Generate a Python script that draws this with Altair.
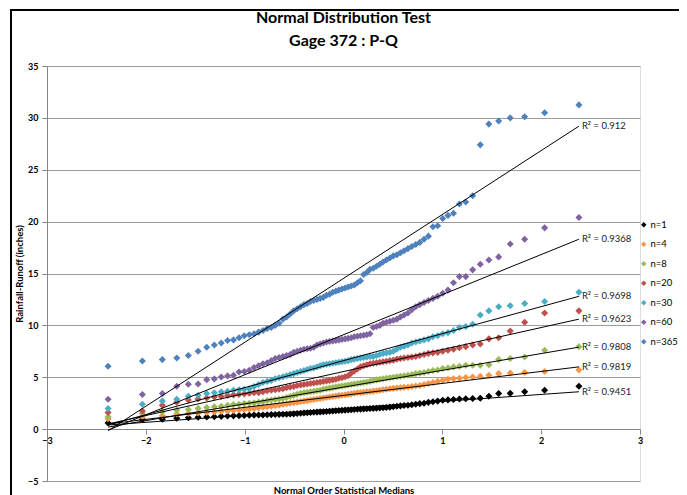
import altair as alt
import pandas as pd

# Normal order statistic medians (x positions, 80 points per series)
X = [-2.382, -2.035, -1.833, -1.687, -1.570, -1.471, -1.384, -1.307, -1.237, -1.173,
     -1.113, -1.057, -1.004, -0.953, -0.905, -0.859, -0.815, -0.772, -0.731, -0.691,
     -0.652, -0.613, -0.576, -0.540, -0.504, -0.469, -0.434, -0.400, -0.367, -0.334,
     -0.301, -0.268, -0.236, -0.204, -0.172, -0.141, -0.109, -0.078, -0.047, -0.016,
     0.016, 0.047, 0.078, 0.109, 0.141, 0.172, 0.204, 0.236, 0.268, 0.301,
     0.334, 0.367, 0.400, 0.434, 0.469, 0.504, 0.540, 0.576, 0.613, 0.652,
     0.691, 0.731, 0.772, 0.815, 0.859, 0.905, 0.953, 1.004, 1.057, 1.113,
     1.173, 1.237, 1.307, 1.384, 1.471, 1.570, 1.687, 1.833, 2.035, 2.382]

Y_N1 = [0.60, 0.93, 0.95, 1.05, 1.10, 1.15, 1.18, 1.20, 1.23, 1.26,
        1.28, 1.30, 1.32, 1.34, 1.35, 1.36, 1.37, 1.38, 1.40, 1.41,
        1.42, 1.43, 1.44, 1.45, 1.47, 1.50, 1.53, 1.56, 1.58, 1.60,
        1.62, 1.64, 1.66, 1.68, 1.70, 1.72, 1.75, 1.77, 1.79, 1.81,
        1.83, 1.85, 1.87, 1.89, 1.91, 1.93, 1.95, 1.97, 1.99, 2.00,
        2.02, 2.04, 2.06, 2.09, 2.12, 2.15, 2.20, 2.24, 2.28, 2.30,
        2.35, 2.40, 2.46, 2.50, 2.58, 2.63, 2.70, 2.79, 2.82, 2.85,
        2.90, 2.93, 2.95, 2.97, 3.17, 3.43, 3.45, 3.60, 3.75, 4.13]

Y_N4 = [1.00, 1.20, 1.30, 1.45, 1.50, 1.55, 1.60, 1.65, 1.70, 1.75,
        1.80, 1.85, 1.90, 1.95, 2.00, 2.05, 2.10, 2.15, 2.20, 2.25,
        2.30, 2.40, 2.45, 2.50, 2.55, 2.60, 2.65, 2.70, 2.75, 2.80,
        2.85, 2.90, 2.95, 3.00, 3.05, 3.10, 3.15, 3.20, 3.23, 3.26,
        3.30, 3.35, 3.40, 3.45, 3.50, 3.52, 3.55, 3.60, 3.63, 3.66,
        3.70, 3.75, 3.80, 3.85, 3.90, 3.93, 3.96, 4.00, 4.03, 4.06,
        4.10, 4.15, 4.20, 4.30, 4.40, 4.50, 4.60, 4.70, 4.80, 4.85,
        4.90, 4.97, 5.03, 5.10, 5.20, 5.35, 5.40, 5.45, 5.55, 5.70]

Y_N8 = [1.20, 1.50, 1.67, 1.83, 1.90, 2.00, 2.08, 2.15, 2.20, 2.30,
        2.37, 2.40, 2.46, 2.50, 2.55, 2.60, 2.65, 2.75, 2.80, 2.85,
        2.90, 2.95, 3.05, 3.15, 3.25, 3.35, 3.45, 3.50, 3.55, 3.60,
        3.65, 3.70, 3.75, 3.85, 3.90, 3.95, 4.00, 4.05, 4.10, 4.15,
        4.20, 4.25, 4.30, 4.35, 4.40, 4.45, 4.50, 4.55, 4.60, 4.70,
        4.75, 4.80, 4.85, 4.90, 4.95, 5.00, 5.05, 5.10, 5.15, 5.20,
        5.25, 5.35, 5.40, 5.45, 5.55, 5.65, 5.70, 5.85, 5.90, 6.00,
        6.05, 6.15, 6.15, 6.15, 6.20, 6.70, 6.80, 6.95, 7.60, 7.95]

Y_N20 = [1.60, 1.75, 2.30, 2.60, 2.80, 2.90, 3.00, 3.10, 3.15, 3.25,
         3.30, 3.35, 3.40, 3.45, 3.50, 3.52, 3.60, 3.70, 3.75, 3.80,
         3.85, 3.90, 4.00, 4.05, 4.10, 4.20, 4.25, 4.30, 4.35, 4.40,
         4.45, 4.50, 4.55, 4.60, 4.65, 4.70, 4.75, 4.80, 4.90, 4.95,
         5.05, 5.15, 5.40, 5.60, 5.80, 6.00, 6.10, 6.20, 6.30, 6.35,
         6.40, 6.45, 6.50, 6.55, 6.60, 6.65, 6.75, 6.80, 6.85, 6.90,
         6.95, 7.00, 7.10, 7.20, 7.30, 7.35, 7.40, 7.50, 7.60, 7.70,
         7.85, 7.95, 8.10, 8.20, 8.70, 8.80, 9.45, 10.30, 11.20, 11.40]

Y_N30 = [1.99, 2.40, 2.70, 2.88, 3.17, 3.27, 3.43, 3.50, 3.60, 3.65,
         3.75, 3.80, 3.85, 3.90, 4.10, 4.30, 4.50, 4.60, 4.70, 4.85,
         4.95, 5.05, 5.15, 5.25, 5.35, 5.45, 5.55, 5.65, 5.75, 5.85,
         5.90, 6.00, 6.10, 6.20, 6.25, 6.30, 6.35, 6.40, 6.45, 6.50,
         6.55, 6.60, 6.70, 6.75, 6.80, 6.85, 6.90, 6.95, 7.00, 7.00,
         7.10, 7.20, 7.30, 7.35, 7.40, 7.50, 7.70, 7.90, 8.00, 8.10,
         8.30, 8.40, 8.50, 8.60, 8.70, 8.90, 9.00, 9.20, 9.30, 9.50,
         9.80, 9.90, 10.10, 11.00, 11.40, 11.80, 11.90, 12.10, 12.30, 13.20]

Y_N60 = [2.88, 3.33, 3.43, 4.13, 4.33, 4.35, 4.77, 4.84, 5.03, 5.13,
         5.19, 5.50, 5.55, 5.67, 5.93, 6.10, 6.30, 6.40, 6.60, 6.80,
         6.90, 7.00, 7.10, 7.20, 7.40, 7.50, 7.60, 7.70, 7.75, 7.80,
         7.90, 8.10, 8.20, 8.30, 8.40, 8.45, 8.50, 8.55, 8.60, 8.65,
         8.70, 8.75, 8.80, 8.90, 8.95, 9.00, 9.05, 9.10, 9.20, 9.80,
         9.90, 10.00, 10.20, 10.30, 10.40, 10.50, 10.60, 10.80, 11.00, 11.20,
         11.50, 11.80, 12.00, 12.20, 12.40, 12.60, 12.80, 13.10, 13.40, 14.10,
         14.70, 14.70, 15.35, 15.90, 16.30, 16.60, 17.85, 18.30, 19.40, 20.40]

Y_N365 = [6.06, 6.57, 6.70, 6.85, 7.10, 7.50, 7.90, 8.10, 8.30, 8.55,
          8.60, 8.80, 9.00, 9.10, 9.20, 9.35, 9.50, 9.70, 9.80, 10.00,
          10.20, 10.60, 10.80, 11.10, 11.40, 11.60, 11.80, 12.00, 12.10, 12.30,
          12.40, 12.50, 12.60, 12.70, 12.90, 13.00, 13.20, 13.30, 13.40, 13.50,
          13.60, 13.70, 13.80, 13.90, 14.10, 14.30, 14.90, 15.10, 15.40, 15.50,
          15.70, 15.90, 16.10, 16.30, 16.50, 16.70, 16.80, 17.00, 17.20, 17.40,
          17.60, 17.80, 18.00, 18.30, 18.60, 19.50, 19.60, 20.30, 20.60, 20.80,
          21.70, 21.90, 22.50, 27.40, 29.40, 29.70, 30.00, 30.10, 30.50, 31.25]

SERIES = ["n=1", "n=4", "n=8", "n=20", "n=30", "n=60", "n=365"]
COLORS = ["#000000", "#F79646", "#9BBB59", "#C0504D", "#4BACC6", "#8064A2", "#4F81BD"]
VALUES = [Y_N1, Y_N4, Y_N8, Y_N20, Y_N30, Y_N60, Y_N365]

# Linear trendlines (value at first and last x) and their R² labels
TREND_START = [0.4, 0.5, 0.2, 0.5, 0.4, -0.1, -0.15]
TREND_END = [3.6, 6.0, 7.9, 10.6, 12.8, 18.3, 29.2]
R2 = ["0.9451", "0.9819", "0.9808", "0.9623", "0.9698", "0.9368", "0.912"]

FONT = "Lato"

pt_rows, tr_rows, lb_rows = [], [], []
for k, (s, ys) in enumerate(zip(SERIES, VALUES)):
    for x, y in zip(X, ys):
        pt_rows.append({"series": s, "k": k, "x": x, "y": y})
    tr_rows.append({"series": s, "x": X[0], "y": TREND_START[k]})
    tr_rows.append({"series": s, "x": X[-1], "y": TREND_END[k]})
    lb_rows.append({"series": s, "x": X[-1], "y": TREND_END[k], "label": "R\u00b2 = " + R2[k]})

points = pd.DataFrame(pt_rows)
trends = pd.DataFrame(tr_rows)
labels = pd.DataFrame(lb_rows)

xscale = alt.Scale(domain=[-3, 3], nice=False, zero=False)
yscale = alt.Scale(domain=[-5, 35], nice=False, zero=False)

x_axis = alt.Axis(values=[-3, -2, -1, 0, 1, 2, 3], format="d", offset=-52, grid=False,
                  domainColor="#868686", tickColor="#868686", tickSize=5,
                  labelFont=FONT, labelFontSize=9, labelFontWeight="bold",
                  labelColor="#000000", labelPadding=2, labelFlush=False,
                  title="Normal Order Statistical Medians", titleFont=FONT,
                  titleFontSize=9.5, titleFontWeight="bold", titleColor="#000000",
                  titleY=61, titleBaseline="middle")
y_axis = alt.Axis(values=list(range(-5, 40, 5)), format="d", grid=True, gridColor="#9C9C9C",
                  domainColor="#868686", tickColor="#868686", tickSize=5,
                  labelFont=FONT, labelFontSize=9, labelFontWeight="bold",
                  labelColor="#000000", labelPadding=4,
                  title="Rainfall-Runoff (inches)", titleFont=FONT,
                  titleFontSize=9.5, titleFontWeight="bold", titleColor="#000000",
                  titlePadding=3)

pts = alt.Chart(points).mark_point(shape="diamond", filled=True, size=50, opacity=1).encode(
    x=alt.X("x:Q", scale=xscale, axis=x_axis),
    y=alt.Y("y:Q", scale=yscale, axis=y_axis),
    color=alt.Color("series:N", sort=SERIES,
                    scale=alt.Scale(domain=SERIES, range=COLORS),
                    legend=alt.Legend(title=None, orient="none", legendX=592, legendY=154,
                                      symbolType="diamond", symbolSize=30,
                                      labelFont=FONT, labelFontSize=9.5, labelColor="#000000",
                                      labelOffset=2, rowPadding=8.5)),
    order=alt.Order("k:Q"),
)

lines = alt.Chart(trends).mark_line(color="#000000", strokeWidth=1).encode(
    x=alt.X("x:Q", scale=xscale),
    y=alt.Y("y:Q", scale=yscale),
    detail="series:N",
)

texts = alt.Chart(labels).mark_text(align="left", baseline="middle", dx=3,
                                    font=FONT, fontSize=9.5, color="#222222").encode(
    x=alt.X("x:Q", scale=xscale),
    y=alt.Y("y:Q", scale=yscale),
    text="label:N",
)

frame = alt.Chart(alt.Data(values=[{"f": 1}])).mark_rect(
    filled=False, stroke="#000000", strokeWidth=2).encode(
    x=alt.value(-36), x2=alt.value(720), y=alt.value(-56), y2=alt.value(620))

chart = alt.layer(pts, lines, texts, frame).properties(
    width=593, height=415,
    title=alt.TitleParams(text=["Normal Distribution Test", "Gage 372 : P-Q"],
                          font=FONT, fontSize=16, fontWeight="bold", color="#000000",
                          anchor="middle", frame="group", lineHeight=23, offset=0, dy=40),
    autosize=alt.AutoSizeParams(type="none"),
    padding={"left": 39, "top": 58, "right": 39, "bottom": 14},
).configure_view(stroke=None).configure(background="#FFFFFF")

chart.save("out.html", embed_options={"renderer": "svg", "actions": False})
